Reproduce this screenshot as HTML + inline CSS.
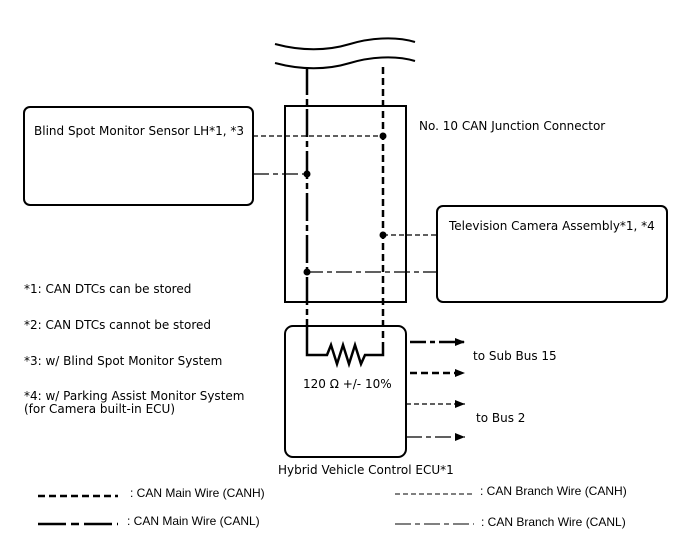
<!DOCTYPE html>
<html><head><style>body{margin:0;background:#fff}svg{display:block}text{font-family:"DejaVu Sans","Liberation Sans",sans-serif;font-size:12px;fill:#000}</style></head><body>
<svg width="688" height="560" viewBox="0 0 688 560" xmlns="http://www.w3.org/2000/svg">
<defs><marker id="ar" markerWidth="10" markerHeight="8" refX="10" refY="4" orient="auto" markerUnits="userSpaceOnUse"><path d="M0,0 L10,4 L0,8 z" fill="#000"/></marker></defs>
<g fill="none" stroke="#000">
<path d="M275,44 C305,52 330,50 350,44 C370,38 395,36 415,42" stroke-width="2"/>
<path d="M275,63 C305,71 330,69 350,63 C370,57 395,55 415,61" stroke-width="2"/>
<rect x="285" y="106" width="121" height="196" stroke-width="2"/>
<rect x="24" y="107" width="229" height="98" rx="6" stroke-width="2"/>
<rect x="437" y="206" width="230" height="96" rx="6" stroke-width="2"/>
<rect x="285" y="326" width="121" height="131" rx="8" stroke-width="2"/>
<path d="M307,67 V346" stroke-width="2.5" stroke-dasharray="28,4,6,4"/>
<path d="M307,346 V355 H327 L331,345 L337,364 L343,345 L349,364 L355,345 L361,364 L365,355 H383 V346" stroke-width="2.5"/>
<path d="M383,67 V346" stroke-width="2.5" stroke-dasharray="7,4"/>
<path d="M253,136 H383" stroke-width="1.3" stroke-dasharray="5,3"/>
<path d="M253,174 H307" stroke-width="1.3" stroke-dasharray="16,4,5,4"/>
<path d="M383,235 H437" stroke-width="1.3" stroke-dasharray="5,3"/>
<path d="M307,272 H437" stroke-width="1.3" stroke-dasharray="16,4,5,4"/>
<path d="M410,342 H465" stroke-width="2.5" stroke-dasharray="16,4,5,4" marker-end="url(#ar)"/>
<path d="M410,373 H465" stroke-width="2.5" stroke-dasharray="7,4" marker-end="url(#ar)"/>
<path d="M406,404 H465" stroke-width="1.3" stroke-dasharray="5,3" marker-end="url(#ar)"/>
<path d="M406,437 H465" stroke-width="1.3" stroke-dasharray="16,4,5,4" marker-end="url(#ar)"/>
<path d="M38,496 H118" stroke-width="2.5" stroke-dasharray="7,4"/>
<path d="M38,524 H118" stroke-width="2.5" stroke-dasharray="28,5,8,5"/>
<path d="M395,494 H474" stroke-width="1" stroke-dasharray="5,3"/>
<path d="M395,524 H474" stroke-width="1" stroke-dasharray="16,4,5,4"/>
</g>
<g fill="#000"><circle cx="383" cy="136" r="3.5"/><circle cx="307" cy="174" r="3.5"/><circle cx="383" cy="235" r="3.5"/><circle cx="307" cy="272" r="3.5"/></g>
<text x="34" y="135">Blind Spot Monitor Sensor LH*1, *3</text>
<text x="419" y="130">No. 10 CAN Junction Connector</text>
<text x="449" y="230">Television Camera Assembly*1, *4</text>
<text x="24" y="293">*1: CAN DTCs can be stored</text>
<text x="24" y="329">*2: CAN DTCs cannot be stored</text>
<text x="24" y="365">*3: w/ Blind Spot Monitor System</text>
<text x="24" y="400">*4: w/ Parking Assist Monitor System</text>
<text x="24" y="413">(for Camera built-in ECU)</text>
<text x="303" y="388">120 Ω +/- 10%</text>
<text x="473" y="360">to Sub Bus 15</text>
<text x="476" y="422">to Bus 2</text>
<text x="278" y="474">Hybrid Vehicle Control ECU*1</text>
<text x="130" y="497" style="font-family:'Liberation Sans',sans-serif;font-size:12px">: CAN Main Wire (CANH)</text>
<text x="127" y="525" style="font-family:'Liberation Sans',sans-serif;font-size:12px">: CAN Main Wire (CANL)</text>
<text x="480" y="495" style="font-family:'Liberation Sans',sans-serif;font-size:12px">: CAN Branch Wire (CANH)</text>
<text x="481" y="526" style="font-family:'Liberation Sans',sans-serif;font-size:12px">: CAN Branch Wire (CANL)</text>
</svg>
</body></html>
